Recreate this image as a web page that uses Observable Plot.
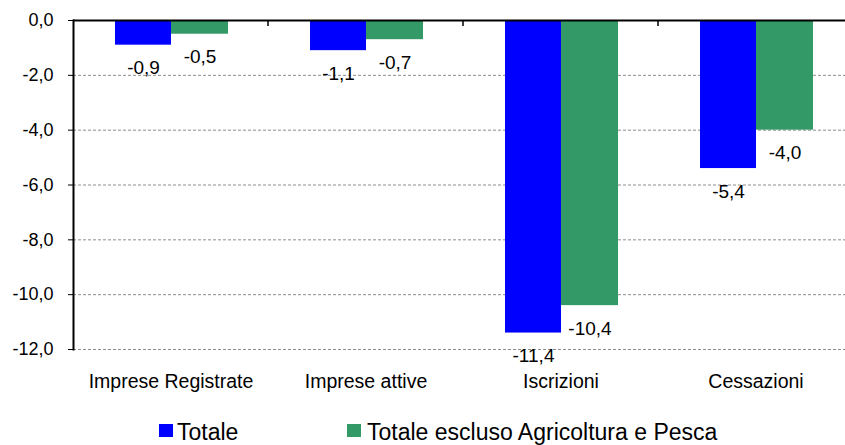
<!DOCTYPE html>
<html>
<head>
<meta charset="utf-8">
<script src="https://cdn.jsdelivr.net/npm/d3@7"></script>
<script src="https://cdn.jsdelivr.net/npm/@observablehq/plot@0.6"></script>
<style>
  html, body { margin: 0; padding: 0; background: #fff; overflow: hidden; width: 845px; height: 445px; }
  #chart { position: relative; width: 853px; }
  #legend { position: relative; height: 30px; font-family: "Liberation Sans", Arial, sans-serif; font-size: 23px; color: #000; }
  .sw { position: absolute; top: 8.5px; width: 14px; height: 13px; }
  .lt { position: absolute; top: 5.5px; line-height: 23px; white-space: nowrap; }
</style>
</head>
<body>
<div id="chart"></div>
<div id="legend">
  <span class="sw" style="left:159px;background:#0000ff"></span>
  <span class="lt" style="left:177px" id="l1"></span>
  <span class="sw" style="left:347px;background:#339966"></span>
  <span class="lt" style="left:367px" id="l2"></span>
</div>
<script>
const categories = ["Imprese Registrate", "Imprese attive", "Iscrizioni", "Cessazioni"];
const seriesNames = ["Totale", "Totale escluso Agricoltura e Pesca"];
const totale = [-0.9, -1.1, -11.4, -5.4];
const escluso = [-0.5, -0.7, -10.4, -4.0];
const yTicks = [0, -2, -4, -6, -8, -10, -12];
const colors = ["#0000ff", "#339966"];

const fmt = d => d.toFixed(1).replace(".", ",");
const rowsT = categories.map((c, i) => ({category: c, value: totale[i]}));
const rowsE = categories.map((c, i) => ({category: c, value: escluso[i]}));

document.getElementById("l1").textContent = seriesNames[0];
document.getElementById("l2").textContent = seriesNames[1];

const plot = Plot.plot({
  width: 853,
  height: 415,
  marginLeft: 73,
  marginRight: 0,
  marginTop: 20,
  marginBottom: 66,
  style: {fontFamily: "'Liberation Sans', Arial, sans-serif", background: "#fff", color: "#000"},
  x: {type: "band", domain: categories, padding: 0},
  y: {domain: [-12, 0]},
  marks: [
    Plot.ruleY(yTicks.filter(d => d !== 0), {stroke: "#8c8c8c", strokeDasharray: "3,2", strokeWidth: 1}),
    Plot.barY(rowsT, {x: "category", y: "value", fill: colors[0], insetLeft: 42, insetRight: 97}),
    Plot.barY(rowsE, {x: "category", y: "value", fill: colors[1], insetLeft: 98, insetRight: 40}),
    Plot.text(rowsT, {x: "category", y: "value", text: d => fmt(d.value), dx: -27.5, dy: 23, fontSize: 19, lineAnchor: "middle", fill: "#000"}),
    Plot.text(rowsE, {x: "category", y: "value", text: d => fmt(d.value), dx: 29, dy: 23, fontSize: 19, lineAnchor: "middle", fill: "#000"}),
    Plot.ruleY([0], {stroke: "#000", strokeWidth: 2}),
    Plot.frame({anchor: "left", stroke: "#000", strokeWidth: 2}),
    Plot.axisY({ticks: yTicks, tickFormat: fmt, tickSize: 5, tickPadding: 15, fontSize: 18, label: null}),
    Plot.axisX({anchor: "bottom", tickSize: 0, tickPadding: 25, fontSize: 19.5, label: null})
  ]
});

// small tick marks at the category boundaries along the zero line, from the library's scales
const xs = plot.scale("x");
const ys = plot.scale("y");
const y0 = ys.apply(0);
const svg = d3.select(plot.tagName === "svg" ? plot : plot.querySelector("svg"));
categories.slice(0, -1).forEach(c => {
  const xb = xs.apply(c) + xs.bandwidth;
  svg.append("line").attr("x1", xb).attr("x2", xb).attr("y1", y0).attr("y2", y0 + 6)
    .attr("stroke", "#000").attr("stroke-width", 1.5);
});

document.getElementById("chart").appendChild(plot);
</script>
</body>
</html>
